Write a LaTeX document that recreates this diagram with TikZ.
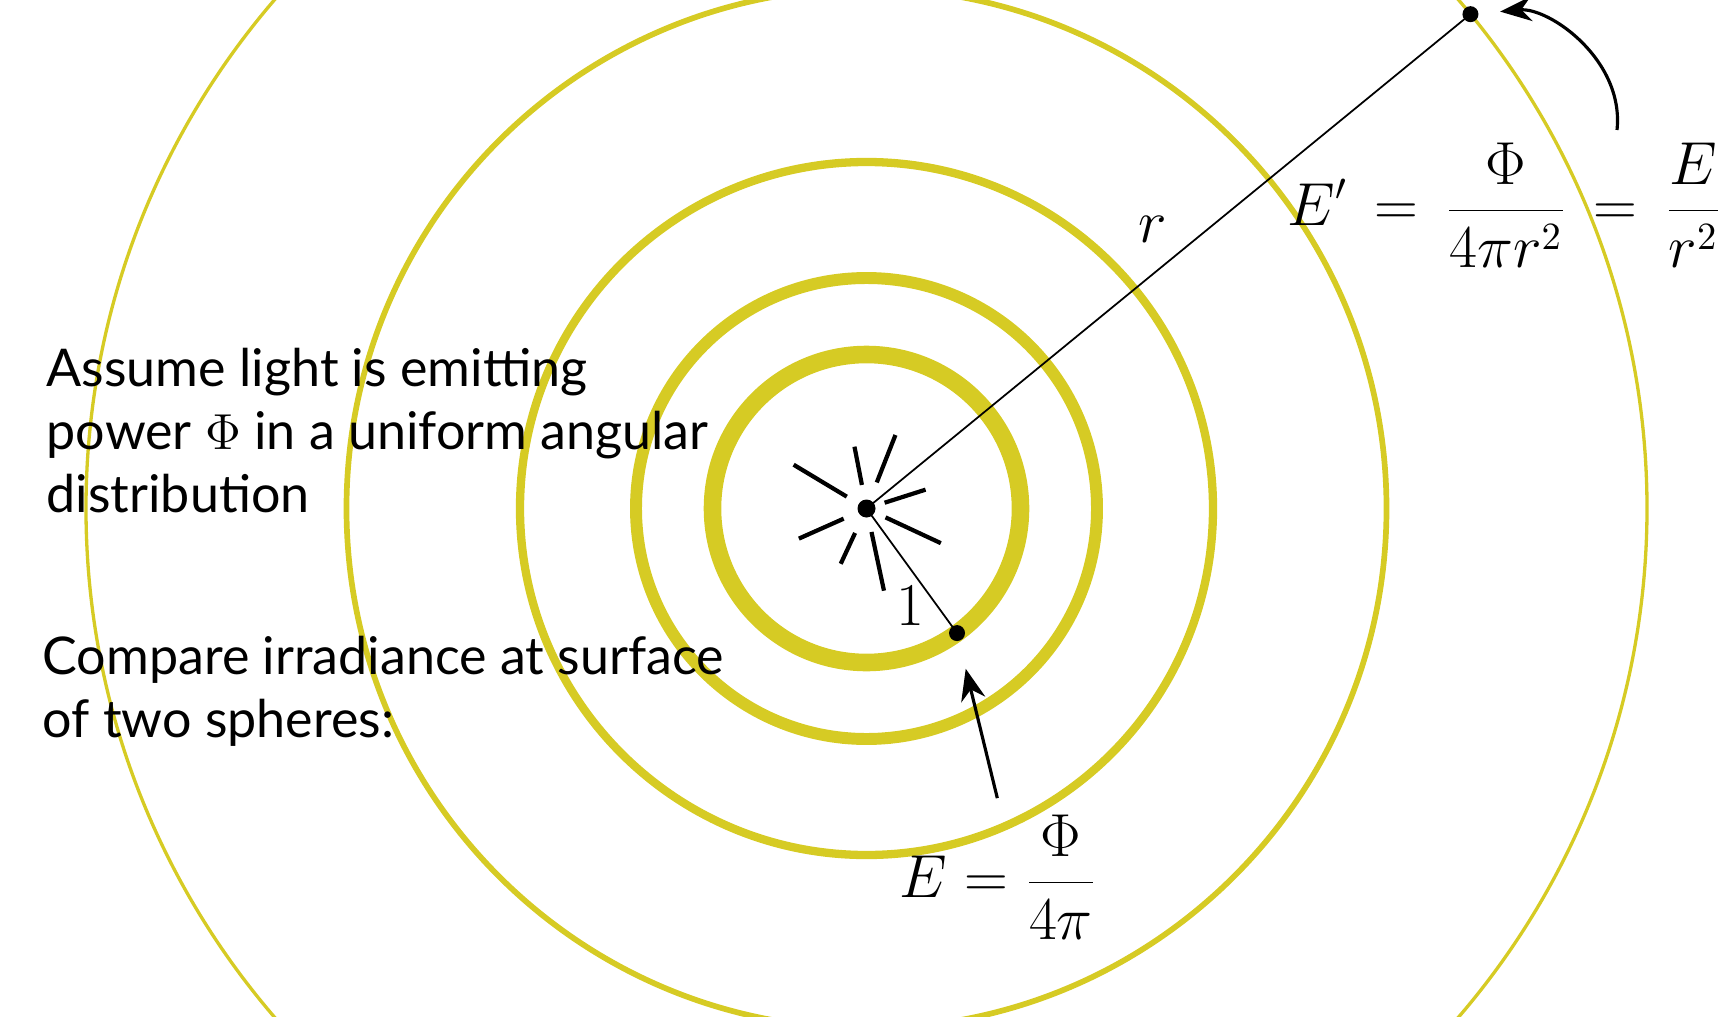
\documentclass[tikz,border=0pt]{standalone}
\usepackage{fontspec}
\newfontfamily\notefont{Lato}
\usetikzlibrary{arrows.meta}
\definecolor{shell}{RGB}{214,203,36}
\begin{document}
\begin{tikzpicture}[
    every node/.style={align=left},
    shell line/.style={draw=shell},
    ray/.style={draw, line width=1.2pt},
    radius line/.style={draw, line width=0.5pt},
    pointer/.style={draw, line width=0.9pt, -{Stealth[length=9pt,width=7pt]}},
    dot/.style={circle, fill, inner sep=0pt, minimum size=0.16cm},
    note/.style={font=\notefont\fontsize{14.8}{17.9}\selectfont, anchor=base west, inner sep=0pt},
    formula/.style={font=\fontsize{16}{19}\selectfont},
    ]
\useasboundingbox (-8.665,-5.075) rectangle (8.665,5.085);
\clip (-8.665,-5.075) rectangle (8.665,5.085);
\draw[shell line, line width=5pt] (0,0) circle (1.54);
\draw[shell line, line width=3.4pt] (0,0) circle (2.305);
\draw[shell line, line width=2.36pt] (0,0) circle (3.465);
\draw[shell line, line width=1.62pt] (0,0) circle (5.2);
\draw[shell line, line width=0.94pt] (0,0) circle (7.805);
\foreach \a/\ri/\ro in {149/.23/.85, 101/.24/.63, 68.5/.28/.79, 17.7/.19/.62,
    -25/.21/.82, -78/.24/.84, -115/.27/.61, -156/.25/.74}
  \draw[ray] (\a:\ri) -- (\a:\ro);
\node[dot, minimum size=0.18cm] (O) at (0,0) {};
\node[dot] (inner) at (-54:1.54) {};
\node[dot] (outer) at (39.3:7.805) {};
\draw[radius line] (O.center) -- (inner.center);
\draw[radius line] (O.center) -- (outer.center);
\node[formula] (one) at (0.435,-0.975) {$1$};
\node[formula] (r) at (2.865,2.795) {$r$};
\node[note] (assume) at (-8.205,-0.035) {Assume light is emitting\\power $\Phi$ in a uniform angular\\distribution};
\node[note] (compare) at (-8.245,-2.285) {Compare irradiance at surface\\of two spheres:};
\node[formula] (eqE) at (1.32,-3.69) {$\displaystyle E=\frac{\Phi}{4\pi}$};
\node[formula] (eqEp) at (6.385,3.035) {$\displaystyle E'\,=\,\frac{\Phi}{4\pi r^2}\,=\,\frac{E}{r^2}$};
\draw[pointer, shorten <=0.05cm, shorten >=0.28cm] (eqE.north) -- (inner);
\coordinate (tail) at (7.505,3.785);
\draw[pointer, shorten >=0.21cm] (tail) to[out=84, in=5] (outer);
\end{tikzpicture}
\end{document}
